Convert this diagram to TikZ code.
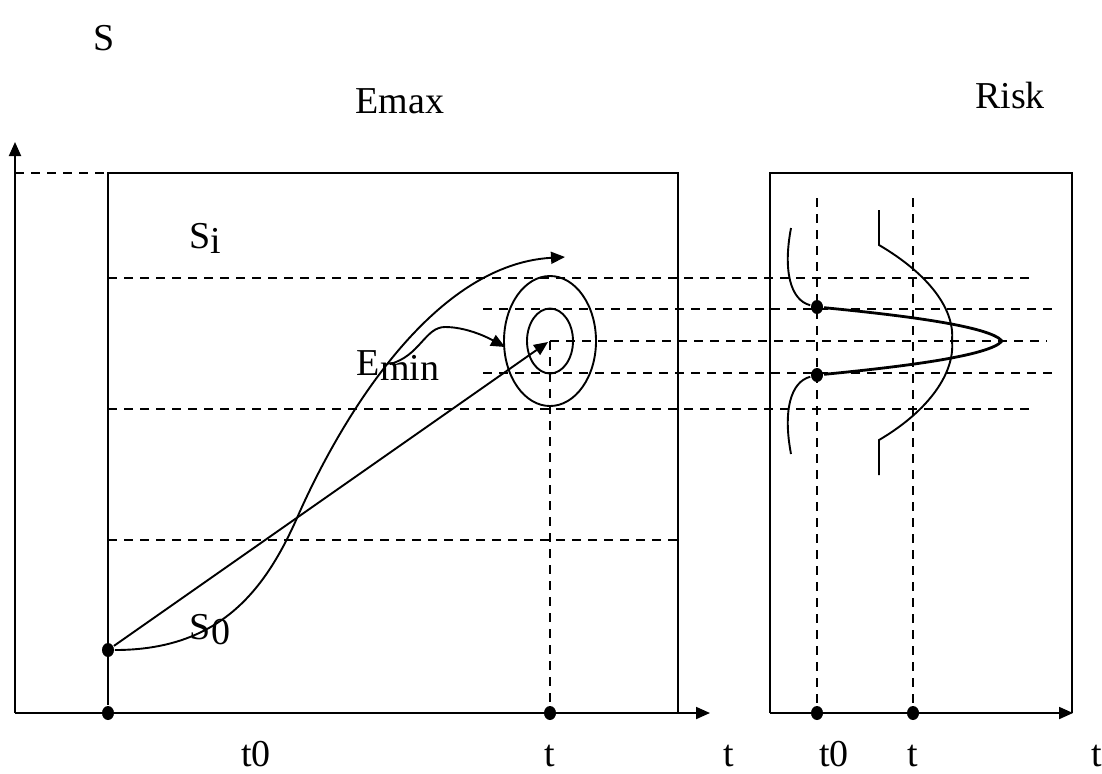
\documentclass[tikz,border=0pt]{standalone}
\usepackage{fontspec}
\setmainfont{Liberation Serif}
\usetikzlibrary{arrows.meta, shapes.geometric}
\newcommand{\lowr}[1]{\raisebox{-2.5pt}{#1}}

\begin{document}
\begin{tikzpicture}[x=0.5pt, y=-0.5pt, line width=0.95pt,
    >={Triangle[length=7pt, width=6pt]},
    grid/.style={dash pattern=on 4.5pt off 3.5pt, line width=0.85pt},
    pt/.style={ellipse, fill, inner sep=0pt, minimum width=6pt, minimum height=7pt},
    lbl/.style={font=\fontsize{19}{22}\selectfont, inner sep=0pt},
    tick/.style={lbl, anchor=base},
    peak/.style={line width=1.4pt}]

    \useasboundingbox (0,0) rectangle (1102,773);

    % --- Anchor points ---
    \coordinate (o)    at (15,713);
    \coordinate (ytip) at (15,142);
    \coordinate (xtip) at (710,713);
    \coordinate (ro)   at (770,713);
    \coordinate (rtip) at (1073,713);
    \coordinate (ctr)  at (550,341);
    \coordinate (hit)  at (548,342);
    \coordinate (far)  at (565,257);
    \coordinate (near) at (505,347);
    \coordinate (emn)  at (390,364);
    \node[pt] (s0)   at (108,650) {};
    \node[pt] (t0a)  at (108,713) {};
    \node[pt] (ta)   at (550,713) {};
    \node[pt] (hi)   at (817,307) {};
    \node[pt] (lo)   at (817,375) {};
    \node[pt] (t0b)  at (817,713) {};
    \node[pt] (tb)   at (913,713) {};

    % --- Labels ---
    \node[lbl] (lS)    at (104,38)  {S};
    \node[lbl] (lEmax) at (400,101) {Emax};
    \node[lbl] (lRisk) at (1010,95) {Risk};
    \node[lbl] (lSi)   at (205,238) {S\lowr{i}};
    \node[lbl] (lEmin) at (398,366) {E\lowr{min}};
    \node[lbl] (lS0)   at (210,630) {S\lowr{0}};
    \node[tick] (lt0a) at (256,766) {t0};
    \node[tick] (lta)  at (550,766) {t};
    \node[tick] (ltx)  at (729,766) {t};
    \node[tick] (lt0b) at (834,766) {t0};
    \node[tick] (ltb)  at (913,766) {t};
    \node[tick] (ltr)  at (1097,766) {t};

    % --- Grid lines ---
    \draw[grid] (o |- 0,173) -- (108,173);
    \draw[grid] (108,278) -- (1035,278);
    \draw[grid] (108,409) -- (1035,409);
    \draw[grid] (108,540) -- (678,540);
    \draw[grid] (483,309) -- (1052,309);
    \draw[grid] (ctr) -- (1047,341);
    \draw[grid] (483,373) -- (1052,373);
    \draw[grid] (ctr) -- (ta);
    \draw[grid] (817,198) -- (t0b);
    \draw[grid] (913,198) -- (tb);

    % --- Axes and frames ---
    \draw[->] (o) -- (ytip);
    \draw[->] (o) -- (xtip);
    \draw (t0a) -- (108,173) -- (678,173) -- (678,713);
    \draw[->] (ro) -- (rtip);
    \draw (ro) -- (770,173) -- (1072,173) -- (1072,713);

    % --- Target rings ---
    \draw (ctr) ellipse [x radius=23pt, y radius=32.5pt];
    \draw (ctr) ellipse [x radius=11.5pt, y radius=16.25pt];

    % --- Paths ---
    \draw[->] (s0) -- (hit);
    \draw[->] (s0) .. controls (220,650) and (265,590) .. (297,518)
                   .. controls (332,438) and (425,265) .. (far);
    \draw[->] (emn) .. controls (420,356) and (425,327) .. (445,327)
                    .. controls (465,327) and (485,336) .. (near);

    % --- Risk curves ---
    \draw[peak] (hi) .. controls (900,315) and (990,326) .. (1002,341)
                     .. controls (990,356) and (900,367) .. (lo);
    \draw (791,228) .. controls (783,270) and (790,300) .. (hi);
    \draw (lo) .. controls (790,382) and (783,412) .. (791,454);
    \draw (879,210) -- (879,245) .. controls (930,275) and (955,310) .. (952,341)
                    .. controls (955,372) and (930,410) .. (879,440) -- (879,475);
\end{tikzpicture}
\end{document}
